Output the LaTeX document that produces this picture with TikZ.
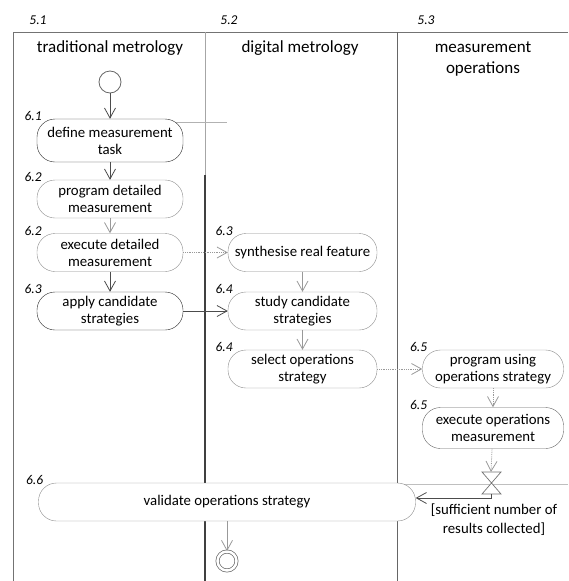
\documentclass[tikz,border=0pt]{standalone}
\usepackage{fontspec}
\setmainfont{Carlito}
\usetikzlibrary{arrows.meta}

\begin{document}
\begin{tikzpicture}[x=1pt, y=-1pt,
	act/.style={draw=black!45, fill=white, rounded corners=18pt, minimum width=146pt, minimum height=38pt, inner sep=0pt, align=center, font=\fontsize{14.8}{17}\selectfont},
	actdark/.style={act, draw=black!85},
	num/.style={anchor=base east, xshift=5pt, yshift=-2pt, inner sep=0pt, font=\fontsize{13.5}{16}\selectfont\itshape},
	lanehead/.style={align=center, font=\fontsize{17}{21}\selectfont},
	flow/.style={draw=black!70, line width=0.8pt, -{Straight Barb[length=10pt,width=11pt]}},
	flowlight/.style={flow, draw=black!40}]
	\useasboundingbox (0,0) rectangle (568,581);
	% swimlanes
	\draw[black!55, line width=0.8pt] (568,32) -- (13,32) -- (13,581);
	\draw[black!35, line width=0.5pt] (205,32) -- (205,175);
	\draw[black!75, line width=1.3pt] (205,175) -- (205,581);
	\draw[black!60, line width=0.8pt] (397,32) -- (397,581);
	\draw[black!25, line width=0.6pt] (397,484) -- (568,484);
	\draw[black!30, line width=0.5pt] (150,122) -- (227,122);
	\node[num, anchor=center, xshift=0pt, yshift=0pt] (n51) at (33,18) {5.1};
	\node[num, anchor=center, xshift=0pt, yshift=0pt] (n52) at (224,18) {5.2};
	\node[num, anchor=center, xshift=0pt, yshift=0pt] (n53) at (421,18) {5.3};
	\node[lanehead] (lane1) at (110,48) {traditional metrology};
	\node[lanehead] (lane2) at (300,48) {digital metrology};
	\node[lanehead] (lane3) at (483,58.5) {measurement\\operations};
	% actions
	\node[circle, draw=black!60, line width=0.8pt, minimum size=22pt, inner sep=0pt] (start) at (110,82) {};
	\node[actdark, minimum height=43pt] (define) at (110,140.5) {define measurement\\task};
	\node[act] (program) at (110,199) {program detailed\\measurement};
	\node[act] (execute) at (110,252.5) {execute detailed\\measurement};
	\node[actdark] (apply) at (110,311) {apply candidate\\strategies};
	\node[act, minimum width=149pt] (synth) at (302.5,252.5) {synthesise real feature};
	\node[act, minimum width=149pt] (study) at (302.5,311) {study candidate\\strategies};
	\node[act, minimum width=149pt] (select) at (302.5,369) {select operations\\strategy};
	\node[act, minimum width=141pt] (progops) at (493,369) {program using\\operations strategy};
	\node[act, minimum width=141pt, minimum height=41pt, draw=black!60] (execops) at (493,428) {execute operations\\measurement};
	\node[act, minimum width=377pt] (validate) at (227,502) {validate operations strategy};
	\node[circle, draw=black!60, line width=0.7pt, double, double distance=2.5pt, minimum size=19pt, inner sep=0pt] (final) at (227,561) {};
	\draw[black!55, line width=0.7pt, fill=white] (482,472) -- (501,472) -- (482,494) -- (501,494) -- cycle;
	\coordinate (bartop) at (491,472);
	\coordinate (barbot) at (491,494);
	\coordinate (turn) at (491,498);
	\node[align=center, font=\fontsize{14.8}{19}\selectfont] (guard) at (494,520) {[sufficient number of\\results collected]};
	\node[num] (l61) at (define.north west) {6.1};
	\node[num] (l62a) at (program.north west) {6.2};
	\node[num] (l62b) at (execute.north west) {6.2};
	\node[num] (l63a) at (apply.north west) {6.3};
	\node[num] (l63b) at (synth.north west) {6.3};
	\node[num] (l64a) at (study.north west) {6.4};
	\node[num] (l64b) at (select.north west) {6.4};
	\node[num] (l65a) at (progops.north west) {6.5};
	\node[num] (l65b) at (execops.north west) {6.5};
	\node[num] (l66) at (validate.north west) {6.6};
	% flows
	\draw[flow] (start) -- (define);
	\draw[flow] (define) -- (program);
	\draw[flowlight] (program) -- (execute);
	\draw[flow] (execute) -- (apply);
	\draw[flowlight, densely dotted] (execute) -- (synth);
	\draw[flow] (apply) -- (study);
	\draw[flowlight] (synth) -- (study);
	\draw[flowlight] (study) -- (select);
	\draw[flowlight, densely dotted] (select) -- (progops);
	\draw[flowlight, densely dotted] (progops) -- (execops);
	\draw[flowlight, densely dotted] (execops) -- (bartop);
	\draw[flow] (barbot) -- (turn) -- (turn -| validate.east);
	\draw[flowlight] (validate) -- (final);
\end{tikzpicture}
\end{document}
